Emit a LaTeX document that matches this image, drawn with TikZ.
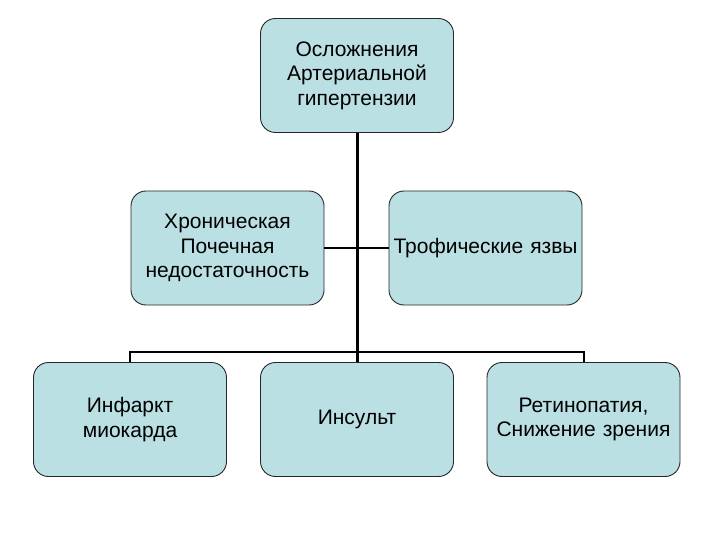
\documentclass[tikz,border=0pt]{standalone}
\usepackage{fontspec}
\setmainfont{Liberation Sans}
\begin{document}
\begin{tikzpicture}[x=1pt,y=-1pt,
  box/.style={draw=black!85, line width=0.9pt, fill=boxfill, rounded corners=15pt,
    minimum width=193pt, minimum height=114pt, inner sep=0pt, text width=192pt,
    align=center, font=\fontsize{21}{24.5}\selectfont},
  link/.style={line width=2pt, draw=black}]
\definecolor{boxfill}{RGB}{187,224,227}
\useasboundingbox (0,0) rectangle (720,540);
\node[box] (top) at (357,75.5) {Осложнения\\Артериальной\\гипертензии};
\node[box] (hpn) at (227.5,248) {Хроническая\\Почечная\\недостаточность};
\node[box] (tro) at (485.5,248) {Трофические язвы};
\node[box] (inf) at (130,419.5) {Инфаркт\\миокарда};
\node[box] (ins) at (357,419.5) {Инсульт};
\node[box] (ret) at (583.5,419.5) {Ретинопатия,\\Снижение зрения};
\coordinate (bus) at (357,352);
\draw[link, line width=3pt] (top.south) -- (ins.north);
\draw[link] (hpn.east) -- (tro.west);
\draw[link] (inf.north) |- (bus) -| (ret.north);
\end{tikzpicture}
\end{document}
